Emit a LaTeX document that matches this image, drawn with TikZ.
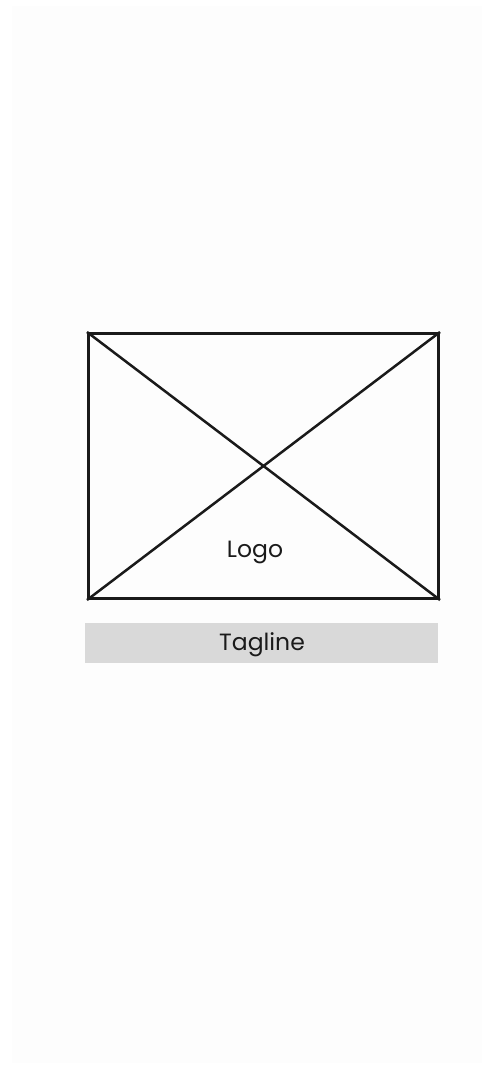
\documentclass[tikz,border=0pt]{standalone}
\usepackage{fontspec}
\setmainfont{Poppins}
\usepackage{xcolor}
\usetikzlibrary{positioning}
\definecolor{wpanel}{HTML}{FDFDFD}
\definecolor{wbar}{HTML}{D9D9D9}
\definecolor{wink}{HTML}{1A1A1A}
\begin{document}
\begin{tikzpicture}[x=1pt, y=-1pt, font=\fontsize{23.5}{27}\selectfont]
% ---------------- page ----------------
\useasboundingbox (0,0) rectangle (482,1065);
\fill[white] (0,0) rectangle (482,1065);
\fill[wpanel] (12,6) rectangle (482,1063);
% ---------------- logo placeholder ----------------
\node[draw=wink, line width=3pt, minimum width=350pt, minimum height=265pt,
  inner sep=0pt, anchor=north west] (logo) at (87,332) {};
\draw[wink, line width=2.5pt] (logo.north west) -- (logo.south east);
\draw[wink, line width=2.5pt] (logo.south west) -- (logo.north east);
\node[text=wink] (logoname) at (255,552) {Logo};
% ---------------- tagline ----------------
\node[fill=wbar, minimum width=353pt, minimum height=40pt, inner sep=0pt,
  anchor=north west] (tagline) at (85,623) {};
\node[text=wink] (taglinetext) at (262,645) {Tagline};
\end{tikzpicture}
\end{document}
